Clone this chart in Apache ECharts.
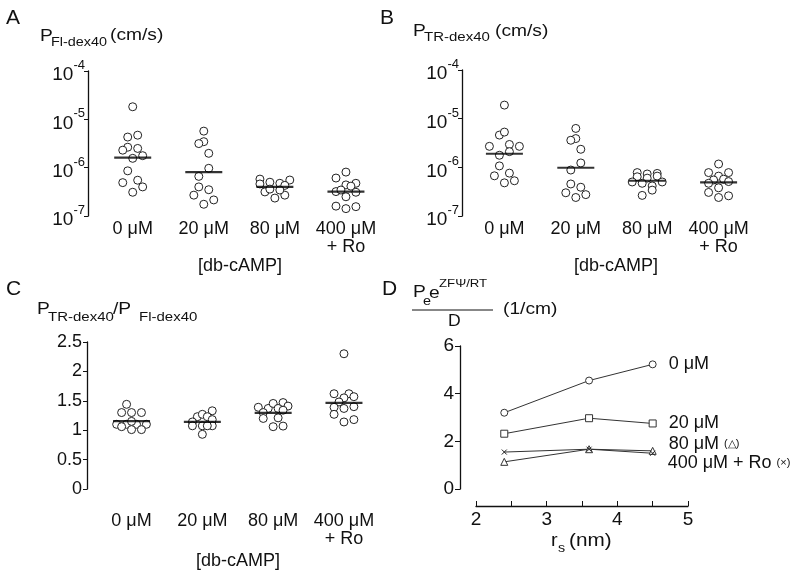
<!DOCTYPE html>
<html><head><meta charset="utf-8">
<script src="https://cdn.jsdelivr.net/npm/echarts@6/dist/echarts.min.js"></script>
<style>html,body{margin:0;padding:0;background:#fff}#c{width:800px;height:578px}
#err{position:absolute;left:0;bottom:0;font:10px monospace;color:#c00}</style>
</head><body><div id="c"></div><div id="err"></div>
<script>
window.onerror = function (m) { document.getElementById('err').textContent += ' ' + m; };
// ---------- categories & ticks ----------
const categories = ['0 μM', '20 μM', '80 μM', '400 μM\n+ Ro'];
const categoryPositions = [1, 2, 3, 4];
const logTicks = [1e-7, 1e-6, 1e-5, 1e-4];
const ratioTicks = [0, 0.5, 1, 1.5, 2, 2.5];
const rsTicks = [2, 3, 4, 5];
const dYTicks = [0, 2, 4, 6];

// ---------- Panel A : P_Fl-dex40 (cm/s), points are [jitter, value] ----------
const flDex0 = [[0,1.82e-5],[-0.07,4.3e-6],[0.07,4.7e-6],[-0.07,2.65e-6],[-0.14,2.3e-6],[0.07,2.5e-6],[0,1.56e-6],[0.14,1.77e-6],[-0.07,8.6e-7],[-0.14,4.9e-7],[0.07,5.5e-7],[0.14,4.0e-7],[0,3.1e-7]];
const flDex20 = [[0,5.7e-6],[0,3.45e-6],[-0.07,3.15e-6],[0.07,1.98e-6],[0.07,9.7e-7],[-0.07,6.6e-7],[-0.07,4.0e-7],[0.07,3.5e-7],[-0.14,2.7e-7],[0.14,2.15e-7],[0,1.75e-7]];
const flDex80 = [[-0.21,5.8e-7],[-0.07,5.0e-7],[0.07,4.75e-7],[0.21,5.55e-7],[-0.21,4.6e-7],[0.14,4.3e-7],[-0.14,3.15e-7],[0,2.35e-7],[0.14,2.7e-7],[0.07,3.45e-7],[-0.07,3.6e-7]];
const flDex400 = [[0,8.1e-7],[-0.14,6.1e-7],[0,4.4e-7],[0.14,4.75e-7],[0.07,4.15e-7],[-0.14,3.2e-7],[-0.07,3.45e-7],[0.14,3.1e-7],[0,2.5e-7],[-0.14,1.6e-7],[0,1.42e-7],[0.14,1.56e-7]];
const flMedians = [1.61e-6, 8.1e-7, 4.0e-7, 3.2e-7];

// ---------- Panel B : P_TR-dex40 (cm/s) ----------
const trDex0 = [[0,1.9e-5],[-0.07,4.6e-6],[0,5.3e-6],[-0.21,2.7e-6],[0.07,2.95e-6],[0.21,2.7e-6],[-0.07,1.77e-6],[0.07,2.1e-6],[-0.07,1.07e-6],[-0.14,6.7e-7],[0.07,7.6e-7],[0,4.8e-7],[0.14,5.3e-7]];
const trDex20 = [[0,6.3e-6],[0,3.9e-6],[-0.07,3.6e-6],[0.07,2.35e-6],[0.07,1.23e-6],[-0.07,8.8e-7],[-0.07,4.55e-7],[0.07,3.9e-7],[-0.14,3.0e-7],[0.14,2.75e-7],[0,2.4e-7]];
const trDex80 = [[-0.14,7.8e-7],[0,7.3e-7],[0.14,7.5e-7],[-0.14,6.4e-7],[0,6.0e-7],[0.14,6.6e-7],[-0.21,5.0e-7],[-0.07,4.7e-7],[0.21,5.0e-7],[0.07,4.15e-7],[0.07,3.4e-7],[-0.07,2.65e-7]];
const trDex400 = [[0,1.17e-6],[-0.14,7.8e-7],[0.14,7.8e-7],[0,6.6e-7],[-0.07,5.5e-7],[0.07,5.7e-7],[0.14,5.1e-7],[-0.14,4.7e-7],[0,3.8e-7],[-0.14,3.05e-7],[0,2.4e-7],[0.14,2.6e-7]];
const trMedians = [1.9e-6, 9.8e-7, 5.3e-7, 4.9e-7];

// ---------- Panel C : P_TR-dex40 / P_Fl-dex40 ----------
const ratio0 = [[-0.07,1.44],[-0.14,1.3],[0,1.3],[0.14,1.3],[-0.21,1.1],[-0.07,1.1],[0.07,1.1],[0.21,1.1],[0,1.15],[-0.14,1.06],[0,1.01],[0.14,1.01]];
const ratio20 = [[0.14,1.33],[-0.07,1.23],[0,1.27],[0.07,1.23],[-0.14,1.14],[0.14,1.18],[-0.14,1.075],[0,1.075],[0.14,1.075],[0.07,1.075],[0,0.93]];
const ratio80 = [[-0.21,1.39],[-0.07,1.37],[0,1.455],[0.14,1.47],[0.21,1.41],[0.07,1.37],[-0.14,1.3],[0.14,1.34],[-0.14,1.2],[0.07,1.21],[0,1.06],[0.14,1.07]];
const ratio400 = [[0,2.3],[-0.14,1.62],[0.07,1.62],[0.14,1.57],[0,1.55],[-0.07,1.48],[-0.14,1.39],[0,1.37],[0.14,1.4],[-0.14,1.27],[0,1.14],[0.14,1.18]];
const ratioMedians = [1.155, 1.14, 1.295, 1.465];

// ---------- Panel D : Pe e^(ZFΨ/RT) / D (1/cm) vs r_s (nm) ----------
const rsValues = [2.4, 3.6, 4.5];
const dLabels = ['0 μM', '20 μM', '80 μM {s|(△)}', '400 μM + Ro {s|(×)}'];
const d0 = [3.2, 4.55, 5.23];
const d20 = [2.32, 2.97, 2.75];
const d80 = [1.14, 1.67, 1.6];
const d400 = [1.55, 1.67, 1.5];

const FONT = 'Liberation Sans, Arial, sans-serif';
const INK = '#111';

function dotSeries(groups, xi, yi) {
  return groups.map((g, i) => ({
    type: 'scatter', xAxisIndex: xi, yAxisIndex: yi,
    data: g.map(p => [categoryPositions[i] + p[0], p[1]]),
    symbol: 'circle', symbolSize: 8,
    itemStyle: { color: '#fff', opacity: 1, borderColor: '#222', borderWidth: 1 },
    z: 2
  }));
}
function medianSeries(meds, xi, yi) {
  return {
    type: 'scatter', xAxisIndex: xi, yAxisIndex: yi,
    data: meds.map((m, i) => [categoryPositions[i], m]),
    symbol: 'rect', symbolSize: [37, 2.2],
    itemStyle: { color: '#000' }, z: 3
  };
}
function catXAxis(grid, min, max, margin, nameGap) {
  return {
    type: 'value', gridIndex: grid, min: min, max: max,
    axisLine: { show: false }, axisTick: { show: false }, splitLine: { show: false },
    axisLabel: {
      customValues: categoryPositions, margin: margin,
      formatter: v => categories[Math.round(v) - 1],
      fontFamily: FONT, fontSize: 18, color: INK, lineHeight: 18
    },
    name: '[db-cAMP]', nameLocation: 'middle', nameGap: nameGap,
    nameTextStyle: { fontFamily: FONT, fontSize: 18, color: INK }
  };
}
function logYAxis(grid) {
  return {
    type: 'log', logBase: 10, gridIndex: grid, min: 1e-7, max: 1e-4,
    axisLine: { show: true, lineStyle: { color: INK, width: 1.3 } },
    axisTick: { show: true, customValues: logTicks, length: 4 },
    splitLine: { show: false },
    axisLabel: {
      customValues: logTicks, margin: 3,
      formatter: v => '{b|10}{s|' + Math.round(Math.log10(v)) + '}',
      rich: {
        b: { fontFamily: FONT, fontSize: 19, color: INK, lineHeight: 24, padding: [8, 0, 0, 0] },
        s: { fontFamily: FONT, fontSize: 13, color: INK, lineHeight: 13, verticalAlign: 'top' }
      }
    }
  };
}

function txt(text, x, y, size, sx) {
  return { type: 'text', x: x, y: y, scaleX: sx || 1,
    style: { text: text, fontFamily: FONT, fontSize: size, fill: INK,
      align: 'left', verticalAlign: 'middle' } };
}

const dSeriesDefs = [
  { data: d0, symbol: 'circle', size: 7, off: [0, 0] },
  { data: d20, symbol: 'rect', size: 7, off: [0, 0] },
  { data: d80, symbol: 'triangle', size: 7, off: [0, -7] },
  { data: d400, symbol: 'path://M0,0L10,10M10,0L0,10', size: 5, off: [0, 10] }
];
const dSeries = dSeriesDefs.map((s, i) => ({
  type: 'line', xAxisIndex: 3, yAxisIndex: 3,
  data: rsValues.map((x, j) => j === rsValues.length - 1 ? {
    value: [x, s.data[j]],
    label: {
      show: true, position: 'right', distance: 12, offset: s.off, formatter: dLabels[i],
      fontFamily: FONT, fontSize: 18, color: INK,
      rich: { s: { fontFamily: FONT, fontSize: 11, color: INK } }
    }
  } : [x, s.data[j]]),
  symbol: s.symbol, symbolSize: s.size, showSymbol: true,
  lineStyle: { color: '#333', width: 1 },
  itemStyle: i === 3 ? { color: '#222', borderColor: '#222', borderWidth: 1 }
                     : { color: '#fff', borderColor: '#333', borderWidth: 1 },
  z: 2
}));

const option = {
  animation: false,
  backgroundColor: '#fff',
  grid: [
    { left: 88, top: 71, width: 304, height: 145 },
    { left: 462, top: 70, width: 308, height: 146 },
    { left: 87, top: 342, width: 302, height: 147 },
    { left: 476, top: 346, width: 212, height: 143 }
  ],
  xAxis: [
    catXAxis(0, 0.371, 4.648, 4, 40),
    catXAxis(1, 0.406, 4.72, 4, 40),
    catXAxis(2, 0.371, 4.636, 23, 63),
    {
      type: 'value', gridIndex: 3, min: 2, max: 5, offset: 17,
      axisLine: { show: true, onZero: false, lineStyle: { color: INK, width: 1.3 } },
      axisTick: { show: true, inside: true, length: 5 },
      splitLine: { show: false },
      axisLabel: { margin: 4, fontFamily: FONT, fontSize: 19, color: INK, customValues: rsTicks }
    }
  ],
  yAxis: [
    logYAxis(0),
    logYAxis(1),
    {
      type: 'value', gridIndex: 2, min: 0, max: 2.5, interval: 0.5,
      axisLine: { show: true, lineStyle: { color: INK, width: 1.3 } },
      axisTick: { show: true, length: 4 },
      splitLine: { show: false },
      axisLabel: { margin: 5, fontFamily: FONT, fontSize: 18, color: INK,
        customValues: ratioTicks, formatter: v => String(v) }
    },
    {
      type: 'value', gridIndex: 3, min: 0, max: 6, offset: 16,
      axisLine: { show: true, lineStyle: { color: INK, width: 1.3 } },
      axisTick: { show: true, length: 5, customValues: dYTicks },
      splitLine: { show: false },
      axisLabel: { margin: 6, fontFamily: FONT, fontSize: 19, color: INK, customValues: dYTicks }
    }
  ],
  series: [
    ...dotSeries([flDex0, flDex20, flDex80, flDex400], 0, 0),
    medianSeries(flMedians, 0, 0),
    ...dotSeries([trDex0, trDex20, trDex80, trDex400], 1, 1),
    medianSeries(trMedians, 1, 1),
    ...dotSeries([ratio0, ratio20, ratio80, ratio400], 2, 2),
    medianSeries(ratioMedians, 2, 2),
    ...dSeries
  ],
  graphic: [
    txt('A', 6, 18, 21), txt('B', 380, 18, 21), txt('C', 6, 289, 21), txt('D', 382, 289, 21),
    txt('P', 40, 37, 16, 1.2), txt('Fl-dex40', 51, 43, 12, 1.2), txt('(cm/s)', 110, 36, 16, 1.2),
    txt('P', 413, 32, 16, 1.2), txt('TR-dex40', 424, 38, 12.5, 1.2), txt('(cm/s)', 495, 32, 16, 1.2),
    txt('P', 37, 310, 16, 1.2), txt('TR-dex40', 48, 317.5, 12.5, 1.2),
    txt('/P', 113, 310, 16, 1.2), txt('Fl-dex40', 139, 317.5, 12.5, 1.2),
    txt('P', 413, 293, 16, 1.2), txt('e', 423, 302, 12, 1.2), txt('e', 429, 294, 16, 1.2),
    txt('ZFΨ/RT', 439, 283.5, 11, 1.2),
    { type: 'line', shape: { x1: 412, y1: 310, x2: 493, y2: 310 }, style: { stroke: INK, lineWidth: 1 } },
    txt('D', 448, 322, 16, 1.1), txt('(1/cm)', 503, 310, 16, 1.2),
    txt('r', 551, 541, 18, 1.1), txt('s', 558, 548, 13, 1.1), txt('(nm)', 569, 541, 18, 1.15)
  ]
};
try {
  echarts.init(document.getElementById('c')).setOption(option);
} catch (e) {
  document.getElementById('err').textContent += ' ' + e.message;
}
</script>
</body></html>
